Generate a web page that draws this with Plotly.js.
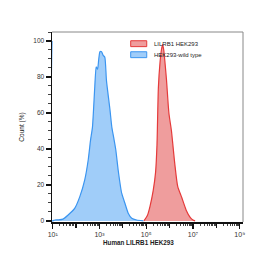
<!DOCTYPE html>
<html>
<head>
<meta charset="utf-8">
<script src="https://cdn.plot.ly/plotly-3.0.1.min.js"></script>
<style>html,body{margin:0;padding:0;background:#fff;}#chart{width:270px;height:255px;}</style>
</head>
<body>
<div id="chart"></div>
<script>
// Fluorescence intensity (log10 exponent) and Count (%)
var seriesNames = ["LILRB1 HEK293", "HEK293-wild type"];
var seriesColors = ["#e53a3a", "#3b95f0"];
var seriesFills = ["rgba(236,140,140,0.85)", "rgba(150,200,248,0.9)"];

var redLogX = [4.90, 5.05, 5.16, 5.30, 5.40, 5.46, 5.52, 5.59, 5.65, 5.70, 5.75, 5.81, 5.87, 5.97, 6.08, 6.22, 6.35, 6.52, 6.71, 6.88, 7.00, 7.09];
var redY    = [0,    3,    8,    17,   27,   42,   74,   88,   95,   98,   95,   87,   78,   60,   50,   32,   19,   13,   6,    2,    0.5,  0];

var blueLogX = [0.97, 0.97, 1.09, 1.25, 1.44, 1.66, 1.94, 2.16, 2.37, 2.52, 2.62, 2.70, 2.80, 2.86, 2.92, 2.97, 3.02, 3.09, 3.16, 3.23, 3.30, 3.45, 3.53, 3.60, 3.70, 3.80, 3.95, 4.09, 4.23, 4.38, 4.59, 4.88];
var blueY    = [100,  0,    0.5,  0.6,  1,    3.3,  7,    13.5, 22.8, 34,   45,   52,   74.6, 85.7, 84.3, 90,   94,   94,   92,   91,   78,   61.7, 52,   47,   39.4, 28.3, 15.4, 9.8,  4.3,  1.5,  0.5,  0];

var xLabelExp = [1, 3, 5, 7, 9];     // labelled decades
var xTickText = ["10\u00B9", "10\u00B3", "10\u2075", "10\u2077", "10\u2079"];
var xUnlabeledExp = [2, 4, 6, 8];    // decades with an unlabelled major tick
var yTickVals = [0, 20, 40, 60, 80, 100];

var toVal = function (e) { return Math.pow(10, e); };

var xMinorVals = [];
for (var e = 1; e < 9; e++) for (var m = 2; m <= 9; m++) xMinorVals.push(m * Math.pow(10, e));

var FONT = "Liberation Sans, Arial, sans-serif";
var tickFont = {family: FONT, size: 7, color: "#333"};
var xRange = [0.97, 9.14];

var traces = [
  {
    x: redLogX.map(toVal), y: redY, name: seriesNames[0],
    type: "scatter", mode: "lines", fill: "tozeroy",
    line: {color: seriesColors[0], width: 1.2, shape: "spline", smoothing: 0.6},
    fillcolor: seriesFills[0], showlegend: false
  },
  {
    x: blueLogX.map(toVal), y: blueY, name: seriesNames[1],
    type: "scatter", mode: "lines", fill: "tozeroy",
    line: {color: seriesColors[1], width: 1.2, shape: "spline", smoothing: 0.5},
    fillcolor: seriesFills[1], showlegend: false
  },
  { // carrier for the overlay axis that draws the unlabelled decade ticks
    x: [null], y: [null], xaxis: "x2", yaxis: "y", type: "scatter", mode: "lines",
    showlegend: false, hoverinfo: "skip"
  }
];

// legend geometry (paper coords)
var legX0 = 0.412, legX1 = 0.496, legTextX = 0.525;
var legRows = [{y0: 0.923, y1: 0.954, ty: 0.938}, {y0: 0.865, y1: 0.896, ty: 0.880}];

var shapes = [
  {type: "line", xref: "paper", yref: "paper", x0: 0, x1: 1, y0: 1, y1: 1, line: {color: "#888", width: 1}},
  {type: "line", xref: "paper", yref: "paper", x0: 1, x1: 1, y0: 0, y1: 1, line: {color: "#888", width: 1}}
];
var annotations = [
  {text: "Human LILRB1 HEK293", xref: "paper", yref: "paper", x: 0.455, y: -0.08,
   xanchor: "center", yanchor: "top", showarrow: false,
   font: {family: FONT, size: 6.3, color: "#222", weight: "bold"}}
];
seriesNames.forEach(function (n, i) {
  shapes.push({type: "rect", xref: "paper", yref: "paper", x0: legX0, x1: legX1,
    y0: legRows[i].y0, y1: legRows[i].y1, fillcolor: seriesFills[i],
    line: {color: seriesColors[i], width: 1}});
  annotations.push({text: n, xref: "paper", yref: "paper", x: legTextX, y: legRows[i].ty,
    xanchor: "left", yanchor: "middle", showarrow: false,
    font: {family: FONT, size: 6, color: "#222"}});
});

var layout = {
  width: 270, height: 255,
  margin: {l: 52, r: 27, t: 32, b: 33, pad: 0},
  paper_bgcolor: "#fff", plot_bgcolor: "#fff",
  font: tickFont,
  showlegend: false,
  xaxis: {
    type: "log", range: xRange,
    tickmode: "array", tickvals: xLabelExp.map(toVal), ticktext: xTickText,
    ticks: "outside", ticklen: 5, tickwidth: 1.2, tickcolor: "#111",
    minor: {tickmode: "array", tickvals: xMinorVals, ticks: "outside", ticklen: 2.5, tickwidth: 0.8, tickcolor: "#111", showgrid: false},
    showline: true, linecolor: "#111", linewidth: 1.5,
    showgrid: false, zeroline: false,
    tickfont: tickFont
  },
  xaxis2: {
    type: "log", range: xRange, overlaying: "x", anchor: "y", side: "bottom",
    tickmode: "array", tickvals: xUnlabeledExp.map(toVal), showticklabels: false,
    ticks: "outside", ticklen: 5, tickwidth: 1.2, tickcolor: "#111",
    showline: false, showgrid: false, zeroline: false
  },
  yaxis: {
    range: [-0.6, 105],
    tickmode: "array", tickvals: yTickVals,
    ticks: "outside", ticklen: 5, tickwidth: 1.2, tickcolor: "#111",
    minor: {dtick: 5, ticks: "outside", ticklen: 2.5, tickwidth: 0.8, tickcolor: "#111", showgrid: false},
    showline: true, linecolor: "#111", linewidth: 1.5,
    showgrid: false, zeroline: false,
    tickfont: {family: FONT, size: 6.5, color: "#333"},
    title: {text: "Count (%)", font: {family: FONT, size: 6.5, color: "#222"}, standoff: 8}
  },
  shapes: shapes,
  annotations: annotations
};

Plotly.newPlot("chart", traces, layout, {staticPlot: true, displayModeBar: false});
</script>
</body>
</html>
